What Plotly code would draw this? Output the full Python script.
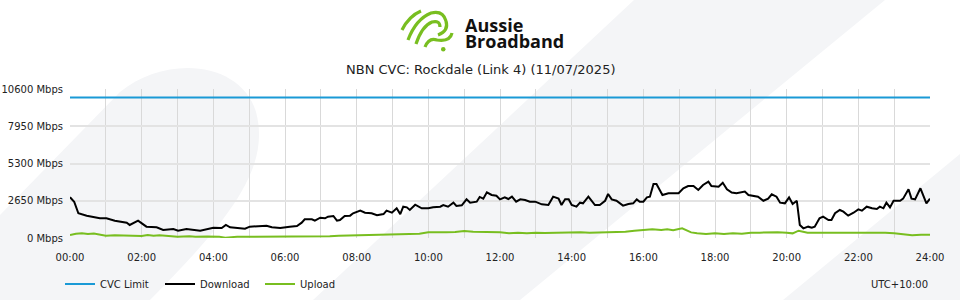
import plotly.graph_objects as go

# ---------------- data ----------------
TITLE = "NBN CVC: Rockdale (Link 4) (11/07/2025)"
X_TICK_HOURS = list(range(0, 25))
X_TICK_LABELS = [f"{h:02d}:00" if h % 2 == 0 else "" for h in range(0, 25)]
Y_TICKS = [0, 2650, 5300, 7950, 10600]
Y_TICK_LABELS = [f"{v} Mbps" for v in Y_TICKS]

CVC_MIN = [0, 1440]
CVC_MBPS = [10000, 10000]

DOWNLOAD_MIN = [
    0, 7, 14, 28, 50, 61, 75, 95, 100, 114,
    128, 145, 156, 173, 181, 195, 218, 240, 254, 261,
    268, 293, 301, 318, 329, 338, 352, 368, 380, 388,
    393, 405, 410, 419, 427, 432, 441, 447, 452, 460,
    469, 474, 486, 494, 505, 514, 525, 530, 539, 547,
    553, 558, 564, 569, 578, 589, 600, 608, 620, 625,
    633, 642, 647, 656, 664, 670, 681, 686, 692, 698,
    706, 714, 720, 728, 734, 740, 747, 754, 762, 770,
    779, 790, 801, 809, 818, 823, 829, 835, 840, 848,
    854, 859, 868, 879, 887, 896, 901, 907, 915, 926,
    935, 943, 949, 954, 960, 966, 971, 977, 982, 992,
    1002, 1019, 1027, 1035, 1044, 1052, 1060, 1069, 1074, 1086,
    1093, 1100, 1108, 1116, 1122, 1130, 1136, 1144, 1152, 1161,
    1169, 1175, 1183, 1189, 1197, 1204, 1210, 1217, 1222, 1228,
    1236, 1242, 1247, 1255, 1261, 1270, 1275, 1281, 1289, 1295,
    1303, 1312, 1320, 1326, 1334, 1343, 1351, 1356, 1362, 1367,
    1373, 1379, 1390, 1395, 1404, 1409, 1415, 1424, 1434, 1440,
]
DOWNLOAD_MBPS = [
    2895, 2583, 1757, 1587, 1400, 1400, 1233, 1091, 925, 1233,
    806, 760, 570, 640, 520, 640, 520, 735, 711, 925,
    760, 663, 806, 877, 877, 760, 711, 806, 853, 1091,
    1328, 1328, 1233, 1446, 1400, 1517, 1565, 1233, 1280, 1565,
    1590, 1757, 1945, 1800, 1757, 1614, 1700, 1945, 1800, 2113,
    1700, 2227, 2180, 1992, 2370, 2113, 2113, 2180, 2227, 2346,
    2227, 2512, 2275, 2322, 2750, 2512, 2583, 2920, 2800, 3250,
    3060, 3010, 2750, 2895, 2775, 2940, 2583, 2750, 2700, 2583,
    2583, 2394, 2346, 2940, 2800, 2346, 2750, 2750, 2346, 2227,
    2512, 2465, 2940, 2346, 2346, 2650, 3130, 2750, 2650, 2300,
    2420, 2465, 2750, 2583, 2583, 2895, 2940, 3842, 3842, 3060,
    3180, 3180, 3535, 3700, 3700, 3420, 3770, 4007, 3700, 3650,
    3935, 3470, 3230, 3180, 3230, 3300, 3060, 2990, 2940, 2650,
    2800, 3110, 2940, 2512, 2465, 2895, 2420, 2650, 925, 688,
    806, 735, 806, 1400, 1517, 1280, 1280, 1757, 1992, 1870,
    1590, 1800, 2040, 1945, 2227, 2113, 2065, 2227, 2113, 2512,
    2180, 2650, 2650, 2800, 3470, 2800, 2750, 3535, 2465, 2800,
]

UPLOAD_MIN = [
    0, 10, 20, 30, 40, 50, 60, 75, 90, 105,
    120, 130, 140, 150, 165, 180, 200, 210, 230, 250,
    260, 280, 300, 330, 360, 390, 420, 435, 450, 480,
    495, 510, 525, 540, 555, 570, 585, 600, 615, 630,
    645, 660, 675, 690, 705, 720, 735, 750, 765, 780,
    795, 810, 840, 855, 870, 900, 915, 930, 945, 960,
    975, 990, 1000, 1010, 1025, 1040, 1050, 1065, 1080, 1095,
    1110, 1125, 1140, 1155, 1170, 1185, 1200, 1210, 1220, 1235,
    1260, 1290, 1320, 1335, 1350, 1365, 1380, 1395, 1410, 1425,
    1440,
]
UPLOAD_MBPS = [
    213, 300, 330, 280, 320, 250, 165, 200, 165, 180,
    142, 213, 165, 200, 142, 95, 120, 95, 110, 95,
    24, 95, 95, 95, 95, 110, 142, 120, 165, 190,
    213, 237, 213, 237, 260, 237, 300, 403, 380, 403,
    427, 498, 450, 450, 403, 403, 330, 380, 330, 380,
    360, 380, 380, 403, 380, 403, 427, 450, 521, 569,
    616, 569, 616, 560, 688, 400, 330, 280, 330, 280,
    330, 300, 380, 380, 403, 403, 380, 330, 521, 380,
    380, 380, 427, 403, 403, 380, 330, 237, 190, 237,
    237,
]

# ---------------- styling ----------------
W, H = 960, 300
ML, MR, MT, MB = 70, 30, 89, 62
PW, PH = W - ML - MR, H - MT - MB
FONT = "DejaVu Sans"
BLUE = "#1a9ad6"
GREEN = "#78be20"
BG_GRAY = "#f4f5f7"


def px(x, y):
    """pixel -> paper coordinates (decoration placement only)"""
    return (x - ML) / PW, (H - MB - y) / PH


def path(cmds):
    out = []
    for c in cmds:
        if isinstance(c, str):
            out.append(c)
        else:
            xx, yy = px(*c)
            out.append(f"{xx:.4f},{yy:.4f}")
    return " ".join(out)


shapes = []
# background decoration (light grey swooshes)
bg_paths = [
    ["M", (0, 215), "L", (120, 92), "C", (165, 55), (240, 60), (256, 112),
     "C", (270, 165), (235, 215), (150, 300), "L", (0, 300), "Z"],
    ["M", (634, 0), "L", (885, 0), "L", (520, 300), "L", (313, 300), "Z"],
    ["M", (960, 154), "L", (960, 300), "L", (783, 300), "Z"],
]
for p in bg_paths:
    shapes.append(dict(type="path", xref="paper", yref="paper", path=path(p),
                       fillcolor=BG_GRAY, line=dict(width=0), layer="below"))

# logo icon strokes
icon_paths = [
    ["M", (402, 30), "Q", (409, 16), (421, 11)],
    ["M", (408, 40), "Q", (416, 19), (431, 13), "Q", (443, 10), (446, 21),
     "Q", (449, 31), (438, 35)],
    ["M", (416, 44), "Q", (422, 26), (432, 22), "Q", (440, 20), (440, 27)],
    ["M", (425, 47), "Q", (429, 37), (437, 40), "Q", (450, 42), (452, 33)],
]
for p in icon_paths:
    shapes.append(dict(type="path", xref="paper", yref="paper", path=path(p),
                       line=dict(color=GREEN, width=3.2), layer="above"))
cx0, cy0 = px(441, 47)
cx1, cy1 = px(445.5, 51.5)
shapes.append(dict(type="circle", xref="paper", yref="paper", x0=cx0, y0=cy1,
                   x1=cx1, y1=cy0, fillcolor=GREEN, line=dict(width=0)))

fig = go.Figure()
fig.add_trace(go.Scatter(x=[m / 60 for m in CVC_MIN], y=CVC_MBPS, mode="lines",
                         name="CVC Limit", line=dict(color=BLUE, width=2)))
fig.add_trace(go.Scatter(x=[m / 60 for m in DOWNLOAD_MIN], y=DOWNLOAD_MBPS, mode="lines",
                         name="Download", line=dict(color="#000000", width=2)))
fig.add_trace(go.Scatter(x=[m / 60 for m in UPLOAD_MIN], y=UPLOAD_MBPS, mode="lines",
                         name="Upload", line=dict(color=GREEN, width=2)))

ax0, ay0 = px(463, 25)
ax1, ay1 = px(463, 41)
ux, uy = px(930, 284)
tx, ty = px(480, 69)

fig.update_layout(
    width=W, height=H,
    margin=dict(l=ML, r=MR, t=MT, b=MB, pad=0, autoexpand=False),
    paper_bgcolor="white", plot_bgcolor="rgba(0,0,0,0)",
    font=dict(family=FONT, size=10, color="#222222"),
    showlegend=True,
    legend=dict(orientation="h", xref="container", yref="container",
                x=60 / W, y=1 - 284 / H, xanchor="left", yanchor="middle",
                bgcolor="rgba(0,0,0,0)", font=dict(size=10, color="#222222"),
                entrywidth=55, itemwidth=30, tracegroupgap=0),
    shapes=shapes,
    annotations=[
        dict(text="<b>Aussie</b>", x=ax0, y=ay0, xref="paper", yref="paper",
             xanchor="left", yanchor="middle", showarrow=False,
             font=dict(family="Open Sans", size=18, color="#111111")),
        dict(text="<b>Broadband</b>", x=ax1, y=ay1, xref="paper", yref="paper",
             xanchor="left", yanchor="middle", showarrow=False,
             font=dict(family="Open Sans", size=18, color="#111111")),
        dict(text=TITLE, x=tx, y=ty, xref="paper", yref="paper",
             xanchor="center", yanchor="middle", showarrow=False,
             font=dict(family=FONT, size=13, color="#222222")),
        dict(text="UTC+10:00", x=ux, y=uy, xref="paper", yref="paper",
             xanchor="right", yanchor="middle", showarrow=False,
             font=dict(family=FONT, size=10, color="#222222")),
    ],
    xaxis=dict(range=[0, 24], tickvals=X_TICK_HOURS, ticktext=X_TICK_LABELS,
               showgrid=True, gridcolor="#d9d9d9", gridwidth=1,
               zeroline=False, showline=False, ticks="outside", ticklen=10,
               tickcolor="rgba(0,0,0,0)", tickfont=dict(size=10, color="#222222")),
    yaxis=dict(range=[0, 10600], tickvals=Y_TICKS, ticktext=Y_TICK_LABELS,
               showgrid=True, gridcolor="#e3e3e3", gridwidth=2,
               zeroline=False, showline=False, ticks="outside", ticklen=4,
               tickcolor="rgba(0,0,0,0)", tickfont=dict(size=10, color="#222222")),
)

fig.write_html("out.html")
